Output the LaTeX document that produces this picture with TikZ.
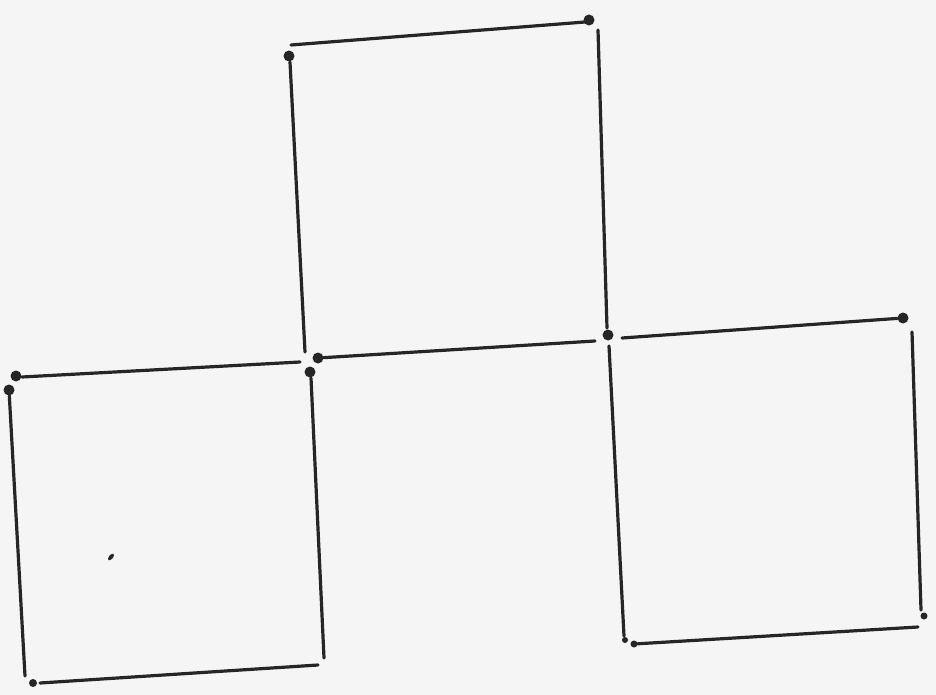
\documentclass[tikz,border=0pt]{standalone}
\begin{document}
\begin{tikzpicture}[x=1pt,y=-1pt,
  edge/.style={draw=black!85, line width=3.2pt, line cap=round},
  dot/.style={circle, fill=black!85, inner sep=0pt, minimum size=11pt}]
\fill[fill=black!4] (0,0) rectangle (936,695);
\useasboundingbox (0,0) rectangle (936,695);
% dots
\node[dot] (tl) at (289,56) {};
\node[dot] (tr) at (589,20) {};
\node[dot] (mj) at (318,358) {};
\node[dot] (mb) at (310,372) {};
\node[dot] (rj) at (608,335) {};
\node[dot] (rt) at (903,318) {};
\node[dot] (lt) at (16,376) {};
\node[dot] (lt2) at (9,390) {};
\node[dot, minimum size=8pt] (lb) at (33,683) {};
\node[dot, minimum size=7pt] (rb) at (634,644) {};
\node[dot, minimum size=6pt] (rbl) at (625,640) {};
\node[dot, minimum size=7pt] (rrb) at (924,616) {};
% end points
\coordinate (a1) at (291,45);
\coordinate (a2) at (585,22);
\coordinate (b1) at (290,62);
\coordinate (b2) at (305,352);
\coordinate (c1) at (598,30);
\coordinate (c2) at (607,328);
\coordinate (d2) at (595,341);
\coordinate (e1) at (622,338);
\coordinate (f1) at (22,377);
\coordinate (f2) at (300,362);
\coordinate (g2) at (25,676);
\coordinate (h1) at (40,683);
\coordinate (h2) at (318,665);
\coordinate (i1) at (311,378);
\coordinate (i2) at (324,658);
\coordinate (j1) at (609,346);
\coordinate (j2) at (624,636);
\coordinate (k1) at (912,332);
\coordinate (k2) at (921,610);
\coordinate (l2) at (918,627);
% top square
\draw[edge] (a1) -- (a2);
\draw[edge] (b1) -- (b2);
\draw[edge] (c1) -- (c2);
\draw[edge] (mj) -- (d2);
% left square
\draw[edge] (f1) -- (f2);
\draw[edge] (lt2) -- (g2);
\draw[edge] (h1) -- (h2);
\draw[edge] (i1) -- (i2);
% right square
\draw[edge] (e1) -- (rt);
\draw[edge] (j1) -- (j2);
\draw[edge] (k1) -- (k2);
\draw[edge] (rb) -- (l2);
% speck
\fill[black!85, rotate around={50:(111,557)}] (111,557) ellipse (4pt and 2pt);
\end{tikzpicture}
\end{document}
